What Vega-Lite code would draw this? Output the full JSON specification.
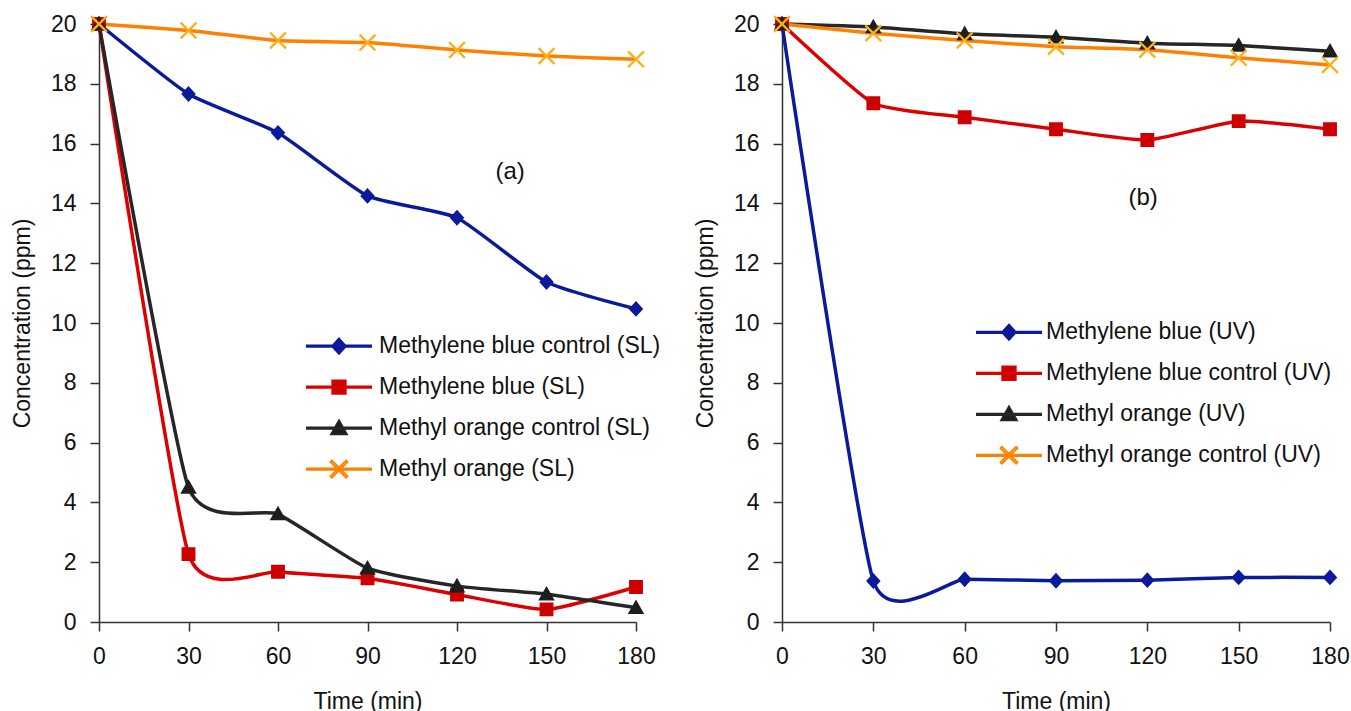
{
  "$schema": "https://vega.github.io/schema/vega-lite/v6.json",
  "background": "white",
  "padding": {"left": 11, "top": 13, "right": 5, "bottom": 0},
  "spacing": 25,
  "config": {
    "view": {"stroke": null},
    "font": "Liberation Sans",
    "axis": {"grid": false, "domainColor": "#333", "tickColor": "#333", "domainWidth": 1.5, "tickWidth": 1.5, "tickSize": 9, "labelFontSize": 23, "labelColor": "#111", "titleFontSize": 23, "titleFontWeight": "normal", "titleColor": "#111", "labelPadding": 14, "labelFont": "Liberation Sans", "titleFont": "Liberation Sans", "labelFlush": false},
    "axisY": {"titlePadding": 16},
    "axisX": {"titlePadding": 22},
    "legend": {"labelFont": "Liberation Sans", "labelColor": "#111"}
  },
  "datasets": {
    "a": [
      {"series": "Methylene blue control (SL)", "time": 0, "conc": 20},
      {"series": "Methylene blue control (SL)", "time": 30, "conc": 17.66},
      {"series": "Methylene blue control (SL)", "time": 60, "conc": 16.36},
      {"series": "Methylene blue control (SL)", "time": 90, "conc": 14.25},
      {"series": "Methylene blue control (SL)", "time": 120, "conc": 13.52},
      {"series": "Methylene blue control (SL)", "time": 150, "conc": 11.37},
      {"series": "Methylene blue control (SL)", "time": 180, "conc": 10.47},
      {"series": "Methylene blue (SL)", "time": 0, "conc": 20},
      {"series": "Methylene blue (SL)", "time": 30, "conc": 2.27},
      {"series": "Methylene blue (SL)", "time": 60, "conc": 1.68},
      {"series": "Methylene blue (SL)", "time": 90, "conc": 1.46},
      {"series": "Methylene blue (SL)", "time": 120, "conc": 0.92},
      {"series": "Methylene blue (SL)", "time": 150, "conc": 0.42},
      {"series": "Methylene blue (SL)", "time": 180, "conc": 1.17},
      {"series": "Methyl orange control (SL)", "time": 0, "conc": 20},
      {"series": "Methyl orange control (SL)", "time": 30, "conc": 4.5},
      {"series": "Methyl orange control (SL)", "time": 60, "conc": 3.61},
      {"series": "Methyl orange control (SL)", "time": 90, "conc": 1.8},
      {"series": "Methyl orange control (SL)", "time": 120, "conc": 1.2},
      {"series": "Methyl orange control (SL)", "time": 150, "conc": 0.93},
      {"series": "Methyl orange control (SL)", "time": 180, "conc": 0.48},
      {"series": "Methyl orange (SL)", "time": 0, "conc": 20},
      {"series": "Methyl orange (SL)", "time": 30, "conc": 19.78},
      {"series": "Methyl orange (SL)", "time": 60, "conc": 19.45},
      {"series": "Methyl orange (SL)", "time": 90, "conc": 19.38},
      {"series": "Methyl orange (SL)", "time": 120, "conc": 19.13},
      {"series": "Methyl orange (SL)", "time": 150, "conc": 18.93},
      {"series": "Methyl orange (SL)", "time": 180, "conc": 18.82}
    ],
    "b": [
      {"series": "Methylene blue (UV)", "time": 0, "conc": 20},
      {"series": "Methylene blue (UV)", "time": 30, "conc": 1.37},
      {"series": "Methylene blue (UV)", "time": 60, "conc": 1.43},
      {"series": "Methylene blue (UV)", "time": 90, "conc": 1.38},
      {"series": "Methylene blue (UV)", "time": 120, "conc": 1.4},
      {"series": "Methylene blue (UV)", "time": 150, "conc": 1.49},
      {"series": "Methylene blue (UV)", "time": 180, "conc": 1.49},
      {"series": "Methylene blue control (UV)", "time": 0, "conc": 20},
      {"series": "Methylene blue control (UV)", "time": 30, "conc": 17.35},
      {"series": "Methylene blue control (UV)", "time": 60, "conc": 16.88},
      {"series": "Methylene blue control (UV)", "time": 90, "conc": 16.48},
      {"series": "Methylene blue control (UV)", "time": 120, "conc": 16.12},
      {"series": "Methylene blue control (UV)", "time": 150, "conc": 16.75},
      {"series": "Methylene blue control (UV)", "time": 180, "conc": 16.48},
      {"series": "Methyl orange (UV)", "time": 0, "conc": 20},
      {"series": "Methyl orange (UV)", "time": 30, "conc": 19.9},
      {"series": "Methyl orange (UV)", "time": 60, "conc": 19.67},
      {"series": "Methyl orange (UV)", "time": 90, "conc": 19.56},
      {"series": "Methyl orange (UV)", "time": 120, "conc": 19.36},
      {"series": "Methyl orange (UV)", "time": 150, "conc": 19.28},
      {"series": "Methyl orange (UV)", "time": 180, "conc": 19.09},
      {"series": "Methyl orange control (UV)", "time": 0, "conc": 20},
      {"series": "Methyl orange control (UV)", "time": 30, "conc": 19.69},
      {"series": "Methyl orange control (UV)", "time": 60, "conc": 19.45},
      {"series": "Methyl orange control (UV)", "time": 90, "conc": 19.24},
      {"series": "Methyl orange control (UV)", "time": 120, "conc": 19.14},
      {"series": "Methyl orange control (UV)", "time": 150, "conc": 18.87},
      {"series": "Methyl orange control (UV)", "time": 180, "conc": 18.63}
    ]
  },
  "resolve": {
    "scale": {"color": "independent", "stroke": "independent", "fill": "independent", "shape": "independent"},
    "legend": {"color": "independent", "stroke": "independent", "fill": "independent", "shape": "independent"}
  },
  "hconcat": [
    {
      "width": 537,
      "height": 598,
      "layer": [
        {
          "data": {"name": "a"},
          "mark": {"type": "line", "interpolate": "cardinal", "tension": 0.5, "strokeWidth": 3.5},
          "encoding": {
            "x": {"field": "time", "type": "quantitative", "scale": {"domain": [0, 180], "nice": false}, "axis": {"values": [0, 30, 60, 90, 120, 150, 180], "title": "Time (min)"}},
            "y": {"field": "conc", "type": "quantitative", "scale": {"domain": [0, 20], "nice": false}, "axis": {"values": [0, 2, 4, 6, 8, 10, 12, 14, 16, 18, 20], "title": "Concentration (ppm)"}},
            "color": {"field": "series", "type": "nominal", "sort": "ascending", "scale": {"range": ["#ff7f00", "#262626", "#dd0000", "#0a1a9a"]}, "legend": null}
          }
        },
        {
          "data": {"name": "a"},
          "mark": {"type": "point", "filled": true, "opacity": 1, "strokeWidth": 0, "size": 4356},
          "encoding": {
            "x": {"field": "time", "type": "quantitative"},
            "y": {"field": "conc", "type": "quantitative"},
            "stroke": {"field": "series", "type": "nominal", "scale": {"domain": ["Methylene blue control (SL)", "Methylene blue (SL)", "Methyl orange control (SL)", "Methyl orange (SL)"], "range": ["#0a1a9a", "#dd0000", "#262626", "#ff7f00"]}, "legend": {"title": null, "orient": "none", "legendX": 206, "legendY": 302, "symbolSize": 4356, "clipHeight": 40.3, "labelFontSize": 23, "labelLimit": 400, "labelOffset": 6, "rowPadding": 0, "padding": 0, "encode": {"symbols": {"strokeWidth": {"value": 1.5}, "strokeOpacity": {"value": 1}, "opacity": {"value": 1}}}}},
            "fill": {"field": "series", "type": "nominal", "scale": {"domain": ["Methylene blue control (SL)", "Methylene blue (SL)", "Methyl orange control (SL)", "Methyl orange (SL)"], "range": ["#0a1a9a", "#cc0000", "#1e1e1e", "#ffae1a"]}, "legend": {"title": null, "orient": "none", "legendX": 206, "legendY": 302, "symbolSize": 4356, "clipHeight": 40.3, "labelFontSize": 23, "labelLimit": 400, "labelOffset": 6, "rowPadding": 0, "padding": 0, "encode": {"symbols": {"strokeWidth": {"value": 1.5}, "strokeOpacity": {"value": 1}, "opacity": {"value": 1}}}}},
            "shape": {"field": "series", "type": "nominal", "scale": {"domain": ["Methylene blue control (SL)", "Methylene blue (SL)", "Methyl orange control (SL)", "Methyl orange (SL)"], "range": [
              "M-1,-0.025H1M-1,0H1M-1,0.025H1M0,-0.24L0.22,0L0,0.24L-0.22,0Z",
              "M-1,-0.025H1M-1,0H1M-1,0.025H1M-0.21,-0.21H0.21V0.21H-0.21Z",
              "M-1,-0.025H1M-1,0H1M-1,0.025H1M0,-0.25L0.25,0.19H-0.25Z",
              "M-1,-0.025H1M-1,0H1M-1,0.025H1M-0.215,-0.265L0.265,0.215L0.215,0.265L-0.265,-0.215ZM-0.265,0.215L0.215,-0.265L0.265,-0.215L-0.215,0.265Z"
            ]}, "legend": {"title": null, "orient": "none", "legendX": 206, "legendY": 302, "symbolSize": 4356, "clipHeight": 40.3, "labelFontSize": 23, "labelLimit": 400, "labelOffset": 6, "rowPadding": 0, "padding": 0, "encode": {"symbols": {"strokeWidth": {"value": 1.5}, "strokeOpacity": {"value": 1}, "opacity": {"value": 1}}}}}
          }
        },
        {
          "data": {"values": [{"label": "(a)"}]},
          "mark": {"type": "text", "fontSize": 24, "color": "#111"},
          "encoding": {
            "x": {"datum": 137.8, "type": "quantitative"},
            "y": {"datum": 15.05, "type": "quantitative"},
            "text": {"field": "label"}
          }
        }
      ]
    },
    {
      "width": 548,
      "height": 598,
      "layer": [
        {
          "data": {"name": "b"},
          "mark": {"type": "line", "interpolate": "cardinal", "tension": 0.5, "strokeWidth": 3.5},
          "encoding": {
            "x": {"field": "time", "type": "quantitative", "scale": {"domain": [0, 180], "nice": false}, "axis": {"values": [0, 30, 60, 90, 120, 150, 180], "title": "Time (min)"}},
            "y": {"field": "conc", "type": "quantitative", "scale": {"domain": [0, 20], "nice": false}, "axis": {"values": [0, 2, 4, 6, 8, 10, 12, 14, 16, 18, 20], "title": "Concentration (ppm)"}},
            "color": {"field": "series", "type": "nominal", "sort": "ascending", "scale": {"range": ["#262626", "#ff7f00", "#0a1a9a", "#dd0000"]}, "legend": null}
          }
        },
        {
          "data": {"name": "b"},
          "mark": {"type": "point", "filled": true, "opacity": 1, "strokeWidth": 0, "size": 4356},
          "encoding": {
            "x": {"field": "time", "type": "quantitative"},
            "y": {"field": "conc", "type": "quantitative"},
            "stroke": {"field": "series", "type": "nominal", "scale": {"domain": ["Methylene blue (UV)", "Methylene blue control (UV)", "Methyl orange (UV)", "Methyl orange control (UV)"], "range": ["#0a1a9a", "#dd0000", "#262626", "#ff7f00"]}, "legend": {"title": null, "orient": "none", "legendX": 193, "legendY": 288, "symbolSize": 4356, "clipHeight": 40.6, "labelFontSize": 23, "labelLimit": 400, "labelOffset": 3, "rowPadding": 0, "padding": 0, "encode": {"symbols": {"strokeWidth": {"value": 1.5}, "strokeOpacity": {"value": 1}, "opacity": {"value": 1}}}}},
            "fill": {"field": "series", "type": "nominal", "scale": {"domain": ["Methylene blue (UV)", "Methylene blue control (UV)", "Methyl orange (UV)", "Methyl orange control (UV)"], "range": ["#0a1a9a", "#cc0000", "#1e1e1e", "#ffae1a"]}, "legend": {"title": null, "orient": "none", "legendX": 193, "legendY": 288, "symbolSize": 4356, "clipHeight": 40.6, "labelFontSize": 23, "labelLimit": 400, "labelOffset": 3, "rowPadding": 0, "padding": 0, "encode": {"symbols": {"strokeWidth": {"value": 1.5}, "strokeOpacity": {"value": 1}, "opacity": {"value": 1}}}}},
            "shape": {"field": "series", "type": "nominal", "scale": {"domain": ["Methylene blue (UV)", "Methylene blue control (UV)", "Methyl orange (UV)", "Methyl orange control (UV)"], "range": [
              "M-1,-0.025H1M-1,0H1M-1,0.025H1M0,-0.24L0.22,0L0,0.24L-0.22,0Z",
              "M-1,-0.025H1M-1,0H1M-1,0.025H1M-0.21,-0.21H0.21V0.21H-0.21Z",
              "M-1,-0.025H1M-1,0H1M-1,0.025H1M0,-0.25L0.25,0.19H-0.25Z",
              "M-1,-0.025H1M-1,0H1M-1,0.025H1M-0.215,-0.265L0.265,0.215L0.215,0.265L-0.265,-0.215ZM-0.265,0.215L0.215,-0.265L0.265,-0.215L-0.215,0.265Z"
            ]}, "legend": {"title": null, "orient": "none", "legendX": 193, "legendY": 288, "symbolSize": 4356, "clipHeight": 40.6, "labelFontSize": 23, "labelLimit": 400, "labelOffset": 3, "rowPadding": 0, "padding": 0, "encode": {"symbols": {"strokeWidth": {"value": 1.5}, "strokeOpacity": {"value": 1}, "opacity": {"value": 1}}}}}
          }
        },
        {
          "data": {"values": [{"label": "(b)"}]},
          "mark": {"type": "text", "fontSize": 24, "color": "#111"},
          "encoding": {
            "x": {"datum": 118.6, "type": "quantitative"},
            "y": {"datum": 14.18, "type": "quantitative"},
            "text": {"field": "label"}
          }
        }
      ]
    }
  ]
}
